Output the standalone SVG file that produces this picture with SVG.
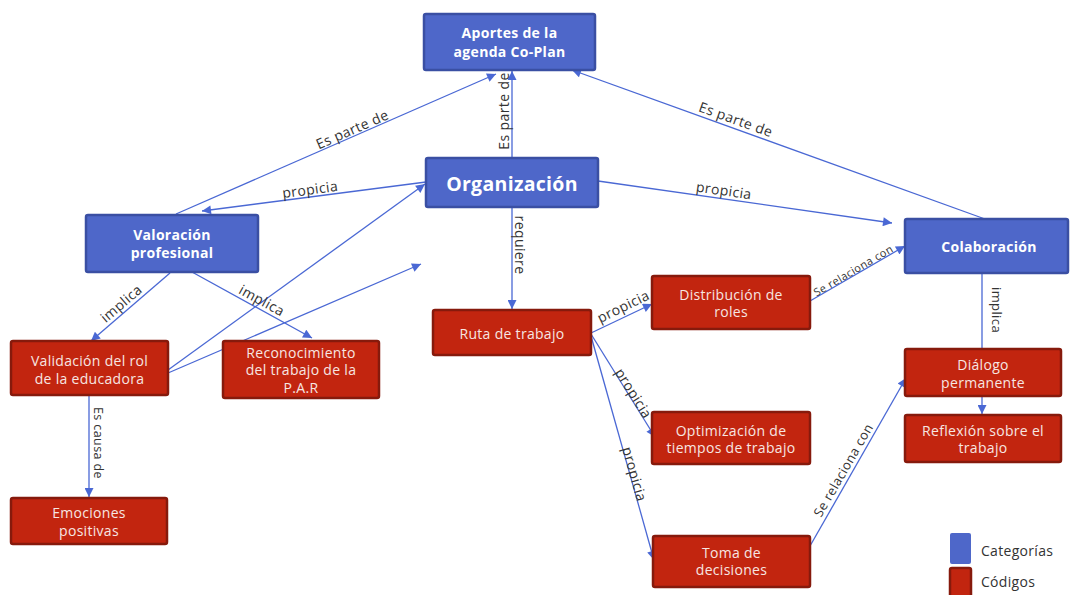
<svg xmlns="http://www.w3.org/2000/svg" width="1070" height="595" viewBox="0 0 1070 595">
<style>
.cat rect{fill:#4e67c9;stroke:#3a4fa3;stroke-width:2.5}
.cod rect{fill:#c2250f;stroke:#861a0c;stroke-width:2.5}
.cat text{fill:#fff;font-family:"Open Sans","Liberation Sans",sans-serif;font-size:14px;font-weight:bold;text-anchor:middle;dominant-baseline:central;letter-spacing:0.3px}
.cod text{fill:#f7e6e2;font-family:"Open Sans","Liberation Sans",sans-serif;font-size:14px;text-anchor:middle;dominant-baseline:central;letter-spacing:0.3px}
.edges line{stroke:#4a68d4;stroke-width:1.3;fill:none}
.lbl{fill:#333;font-family:"Open Sans","Liberation Sans",sans-serif;font-size:14px;text-anchor:middle;dominant-baseline:central;letter-spacing:0.4px}
.sm{font-size:11px}
.leg{fill:#333;font-family:"Open Sans","Liberation Sans",sans-serif;font-size:14px;dominant-baseline:central;letter-spacing:0.3px}
</style>
<defs>
<marker id="ah" viewBox="0 0 10 10" refX="10" refY="5" markerWidth="10" markerHeight="9" markerUnits="userSpaceOnUse" orient="auto">
<path d="M0,0 L10,5 L0,10 z" fill="#4a68d4"/>
</marker>
</defs>
<rect width="1070" height="595" fill="#fff"/>
<g class="edges">
<line x1="176" y1="214" x2="496" y2="74" marker-end="url(#ah)"/>
<line x1="512" y1="158" x2="512" y2="71" marker-end="url(#ah)"/>
<line x1="985" y1="219" x2="572" y2="70" marker-end="url(#ah)"/>
<line x1="426" y1="182" x2="202" y2="211" marker-end="url(#ah)"/>
<line x1="168" y1="370" x2="425" y2="184" marker-end="url(#ah)"/>
<line x1="168" y1="373" x2="421" y2="264" marker-end="url(#ah)"/>
<line x1="170" y1="273" x2="91" y2="341" marker-end="url(#ah)"/>
<line x1="192" y1="272" x2="312" y2="338" marker-end="url(#ah)"/>
<line x1="89" y1="395" x2="89" y2="497" marker-end="url(#ah)"/>
<line x1="512" y1="207" x2="512" y2="309" marker-end="url(#ah)"/>
<line x1="598" y1="181" x2="892" y2="223" marker-end="url(#ah)"/>
<line x1="591" y1="333" x2="652" y2="304" marker-end="url(#ah)"/>
<line x1="591" y1="334" x2="655" y2="437" marker-end="url(#ah)"/>
<line x1="591" y1="336" x2="654" y2="560" marker-end="url(#ah)"/>
<line x1="810" y1="301" x2="905" y2="246" marker-end="url(#ah)"/>
<line x1="810" y1="546" x2="906" y2="378" marker-end="url(#ah)"/>
<line x1="982" y1="273" x2="982" y2="349"/>
<line x1="982" y1="396" x2="982" y2="414" marker-end="url(#ah)"/>
<text class="lbl" transform="translate(352,129) rotate(-23.6)">Es parte de</text>
<text class="lbl" transform="translate(503,111) rotate(-90)">Es parte de</text>
<text class="lbl" transform="translate(736,119) rotate(19.8)">Es parte de</text>
<text class="lbl" transform="translate(310,189) rotate(-7.5)">propicia</text>
<text class="lbl" transform="translate(724,190) rotate(8)">propicia</text>
<text class="lbl" transform="translate(121,303) rotate(-40.7)">implica</text>
<text class="lbl" transform="translate(262,300) rotate(28.6)">implica</text>
<text class="lbl" transform="translate(98,443) rotate(90)" style="font-size:12.5px">Es causa de</text>
<text class="lbl" transform="translate(520,245) rotate(90)">requiere</text>
<text class="lbl" transform="translate(623,306) rotate(-25.8)">propicia</text>
<text class="lbl" transform="translate(634,393) rotate(58)">propicia</text>
<text class="lbl" transform="translate(635,474) rotate(74)">propicia</text>
<text class="lbl sm" transform="translate(853,270) rotate(-30.5)">Se relaciona  con</text>
<text class="lbl" transform="translate(843,470) rotate(-60)" style="font-size:13px">Se relaciona con</text>
<text class="lbl" transform="translate(997,310) rotate(90)" style="font-size:13px">implica</text>
</g>
<g id="aportes" class="cat"><rect x="424" y="14" width="171" height="56" rx="2"/><text x="509.5" y="32">Aportes de la</text><text x="509.5" y="51">agenda Co-Plan</text></g>
<g id="organizacion" class="cat"><rect x="426" y="158" width="172" height="49" rx="2"/><text x="512" y="183" style="font-size:19.5px">Organización</text></g>
<g id="valoracion" class="cat"><rect x="86" y="215" width="172" height="57" rx="2"/><text x="172" y="234">Valoración</text><text x="172" y="252">profesional</text></g>
<g id="colaboracion" class="cat"><rect x="905" y="219" width="163" height="54" rx="2"/><text x="989" y="246">Colaboración</text></g>
<g id="validacion" class="cod"><rect x="11" y="341" width="157" height="54" rx="2"/><text x="89.5" y="360">Validación del rol</text><text x="89.5" y="378">de la educadora</text></g>
<g id="reconocimiento" class="cod"><rect x="223" y="341" width="156" height="57" rx="2"/><text x="301" y="352">Reconocimiento</text><text x="301" y="369.5">del trabajo de la</text><text x="301" y="387">P.A.R</text></g>
<g id="emociones" class="cod"><rect x="11" y="498" width="156" height="46" rx="2"/><text x="89" y="512">Emociones</text><text x="89" y="530">positivas</text></g>
<g id="ruta" class="cod"><rect x="433" y="310" width="158" height="45" rx="2"/><text x="512" y="333">Ruta de trabajo</text></g>
<g id="distribucion" class="cod"><rect x="652" y="276" width="158" height="53" rx="2"/><text x="731" y="294">Distribución de</text><text x="731" y="311">roles</text></g>
<g id="optimizacion" class="cod"><rect x="652" y="412" width="158" height="52" rx="2"/><text x="731" y="430">Optimización de</text><text x="731" y="447">tiempos de trabajo</text></g>
<g id="toma" class="cod"><rect x="653" y="536" width="157" height="51" rx="2"/><text x="731.5" y="552">Toma de</text><text x="731.5" y="569">decisiones</text></g>
<g id="dialogo" class="cod"><rect x="905" y="349" width="156" height="47" rx="2"/><text x="983" y="364">Diálogo</text><text x="983" y="382">permanente</text></g>
<g id="reflexion" class="cod"><rect x="905" y="415" width="156" height="47" rx="2"/><text x="983" y="430">Reflexión sobre el</text><text x="983" y="447">trabajo</text></g>
<g id="legend">
<rect x="950" y="533" width="21" height="31" rx="2" fill="#4e67c9"/>
<rect x="950" y="568" width="21" height="30" rx="2" fill="#c2250f" stroke="#861a0c" stroke-width="2.5"/>
<text class="leg" x="981" y="550">Categorías</text>
<text class="leg" x="981" y="581">Códigos</text>
</g>
</svg>
